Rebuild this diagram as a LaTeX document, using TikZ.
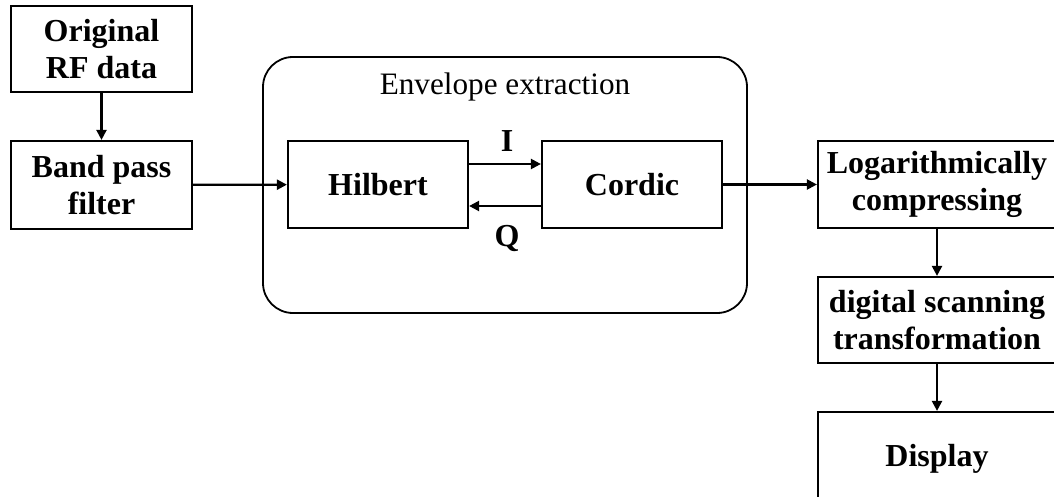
\documentclass[tikz,border=0pt]{standalone}
\usepackage{fontspec}
\setmainfont{Liberation Serif}
\usetikzlibrary{arrows.meta}
\begin{document}
\begin{tikzpicture}[x=1pt,y=-1pt,
  box/.style={draw=black,line width=2.2pt,inner sep=0pt,align=center,
    font=\fontsize{32}{37}\selectfont\bfseries},
  conn/.style={draw=black,line width=2.2pt,-{Triangle[length=10pt,width=10pt]}},
  lbl/.style={inner sep=0pt,font=\fontsize{32}{37}\selectfont\bfseries}]
\clip (0,0) rectangle (1054,497);
\fill[white] (0,0) rectangle (1054,497);
\node[draw=black,line width=1.8pt,rounded corners=30pt,minimum width=484pt,minimum height=256pt] (env) at (505,185) {};
\node[inner sep=0pt,font=\fontsize{31.2}{37}\selectfont] (envl) at (505,87) {Envelope extraction};
\node[box,minimum width=181pt,minimum height=86pt] (orig) at (101.5,49) {Original\\RF data};
\node[box,minimum width=181pt,minimum height=88pt] (band) at (101.5,185) {Band pass\\filter};
\node[box,minimum width=180pt,minimum height=87pt] (hil) at (378,184.5) {Hilbert};
\node[box,minimum width=180pt,minimum height=87pt] (cor) at (632,184.5) {Cordic};
\node[box,minimum width=238pt,minimum height=87pt] (log) at (937,184.5) {Logarithmically\\compressing};
\node[box,minimum width=238pt,minimum height=86pt] (dig) at (937,320) {digital scanning\\transformation};
\node[box,minimum width=238pt,minimum height=94pt] (disp) at (937,459) {Display};
\node[lbl] (il) at (507,141) {I};
\node[lbl] (ql) at (507,238) {Q};
\draw[conn] (orig) -- (band);
\draw[conn] (band) -- (hil);
\draw[conn] ([yshift=20.5pt]hil.east) -- ([yshift=20.5pt]cor.west);
\draw[conn] ([yshift=-21.5pt]cor.west) -- ([yshift=-21.5pt]hil.east);
\draw[conn] (cor) -- (log);
\draw[conn] (log) -- (dig);
\draw[conn] (dig) -- (disp);
\end{tikzpicture}
\end{document}
